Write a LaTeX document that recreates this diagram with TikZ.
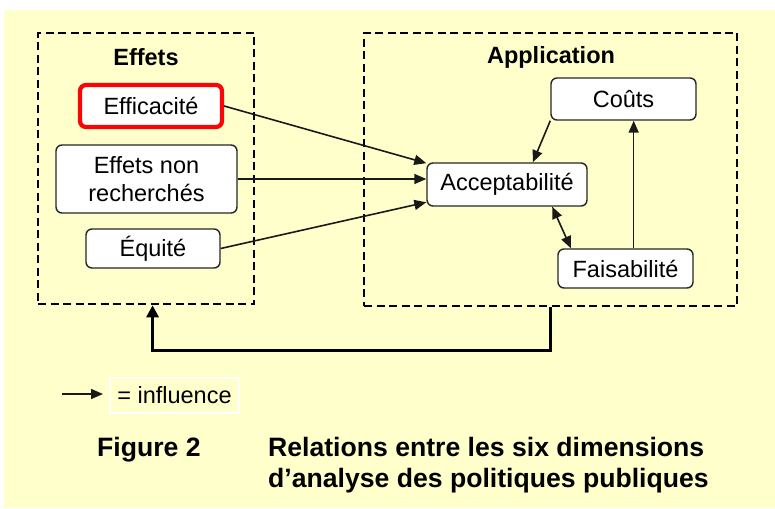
\documentclass[tikz,border=0pt]{standalone}
\usepackage{fontspec}
\setmainfont{Liberation Sans}
\usepackage{xcolor}
\usetikzlibrary{arrows.meta,calc}
\definecolor{PaleYellow}{rgb}{1, 1, 0.8}
\definecolor{AlertRed}{rgb}{0.98, 0.02, 0.02}

\begin{document}
\begin{tikzpicture}[x=1pt,y=1pt,yscale=-1,xscale=1,
		dimbox/.style={draw=black!85, line width=1.4pt, fill=white, rounded corners=6pt, inner sep=0pt, align=center, font=\fontsize{23.5}{28}\selectfont},
		framebox/.style={draw=black, line width=2.6pt, dash pattern=on 8pt off 4.5pt, inner sep=0pt},
		titletext/.style={font=\fontsize{23.5}{28}\selectfont\bfseries, inner sep=0pt},
		captext/.style={font=\fontsize{26.6}{31}\selectfont\bfseries, inner sep=0pt, anchor=base west},
		arr/.style={draw=black!90, line width=1.6pt, -{Triangle[length=12pt,width=10pt]}},
		loopline/.style={draw=black, line width=3.4pt, -{Triangle[length=12pt,width=12pt]}}]
		% Set the page to 775 x 508 and fill the pale yellow sheet
		\useasboundingbox (0,0) rectangle (775,508);
		\fill[white] (0,0) rectangle (775,508);
		\fill[PaleYellow] (4,10) rectangle (775,508);

		% The two dashed frames
		\node[framebox, minimum width=216pt, minimum height=271pt] (effets) at (146,168.5) {};
		\node[framebox, minimum width=373pt, minimum height=273pt] (appli) at (550.5,169.5) {};

		% Titles of the frames
		\node[titletext] (effetstitle) at (146,57) {Effets};
		\node[titletext] (applititle) at (551,57) {Application};

		% Boxes of the Effets frame
		\node[dimbox, draw=AlertRed, line width=4.2pt, minimum width=142pt, minimum height=42pt] (effic) at (151,106) {Efficacit\'e};
		\node[dimbox, minimum width=181pt, minimum height=68pt] (nonrech) at (146.5,179) {Effets non\\recherch\'es};
		\node[dimbox, minimum width=134pt, minimum height=39pt] (equite) at (153,248.5) {\'Equit\'e};

		% Boxes of the Application frame
		\node[dimbox, minimum width=145pt, minimum height=42pt] (couts) at (623.5,99) {Co\^uts};
		\node[dimbox, minimum width=160pt, minimum height=43pt] (accept) at (507,184.5) {Acceptabilit\'e};
		\node[dimbox, minimum width=135pt, minimum height=39pt] (faisab) at (625.5,268.5) {Faisabilit\'e};

		% Influences of the effects on acceptability
		\draw[arr] (effic.east) -- ($(accept.north west)!0.02!(accept.south west)$);
		\draw[arr] (nonrech.east) -- (nonrech.east -| accept.west);
		\draw[arr] (equite.east) -- ($(accept.north west)!0.9!(accept.south west)$);

		% Influences inside the Application frame
		\draw[arr] (couts.south west) -- ($(accept.north west)!0.66!(accept.north east)$);
		\draw[arr, {Triangle[length=12pt,width=10pt]}-{Triangle[length=12pt,width=10pt]}] ($(accept.south west)!0.78!(accept.south east)$) -- ($(faisab.north west)!0.1!(faisab.north east)$);
		\coordinate (faistop) at ($(faisab.north west)!0.56!(faisab.north east)$);
		\draw[arr] (faistop) -- (faistop |- couts.south);

		% Feedback from Application back to Effets
		\draw[loopline] (appli.south) -- ++(0,43) -| ($(effets.south west)!0.53!(effets.south east)$);

		% Legend
		\coordinate (legstart) at (62,394);
		\node[draw=white, line width=1.5pt, fill=PaleYellow, minimum width=129pt, minimum height=35pt, inner sep=0pt, font=\fontsize{23.5}{28}\selectfont] (influence) at (174.5,395.5) {= influence};
		\draw[arr] (legstart) -- ++(41,0);

		% Caption
		\node[captext] (fignum) at (97,456.5) {Figure 2};
		\node[captext] (caption1) at (268,456.5) {Relations entre les six dimensions};
		\node[captext] (caption2) at (268,487.5) {d'analyse des politiques publiques};
	\end{tikzpicture}
\end{document}
